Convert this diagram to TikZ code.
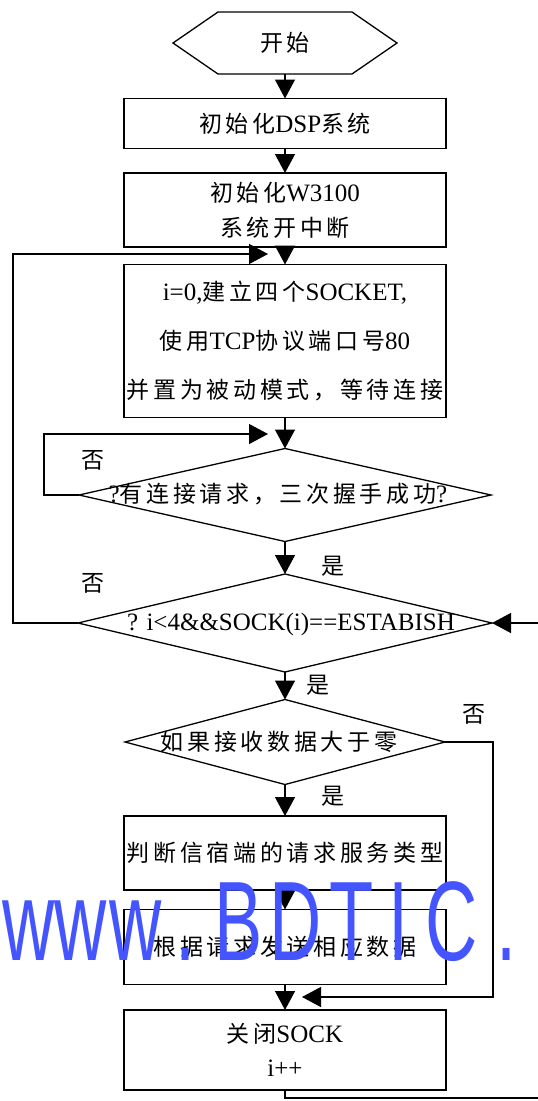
\documentclass[tikz,border=0pt]{standalone}
\usepackage{fontspec}
\setmainfont{Liberation Serif}
\newfontfamily\cjkf[LetterSpace=16,Scale=0.92]{Noto Sans CJK SC}
\newfontfamily\wmf{Liberation Sans}
\usetikzlibrary{arrows.meta,shapes.geometric,calc}
\definecolor{wmblue}{RGB}{68,85,255}
\newcommand\cjtxt[1]{{\cjkf #1}}
\newcommand\wmch[2]{\makebox[#1][l]{#2}}
\begin{document}
\begin{tikzpicture}[x=1pt,y=-1pt,
  line width=1.3pt,
  arr/.style={-{Triangle[length=19pt,width=20pt]}},
  box/.style={draw, rectangle, minimum width=322pt, inner sep=0pt, outer sep=0pt,
    font=\fontsize{25}{30}\selectfont, align=center},
  dia/.style={draw, diamond, inner sep=0pt, outer sep=0pt},
  txt/.style={inner sep=0pt, font=\fontsize{25}{30}\selectfont},
]
\useasboundingbox (0,0) rectangle (538,1101);

% start hexagon
\node[txt, minimum width=224pt, minimum height=62pt, outer sep=0pt] (st) at (285,43) {\cjtxt{开始}};
\draw (st.west) -- ($(st.north west)+(45,0)$) -- ($(st.north east)+(-45,0)$) -- (st.east)
  -- ($(st.south east)+(-45,0)$) -- ($(st.south west)+(45,0)$) -- cycle;

% boxes
\node[box, minimum height=50pt] (b1) at (285,123.5) {\cjtxt{初始化}DSP\cjtxt{系统}};
\node[box, minimum height=74pt, font=\fontsize{25}{35}\selectfont] (b2) at (285,210) {\cjtxt{初始化}W3100\\\cjtxt{系统开中断}};
\node[box, minimum height=153pt, font=\fontsize{25}{49}\selectfont] (b3) at (285,341) {i=0,\cjtxt{建立四个}SOCKET,\\\cjtxt{使用}TCP\cjtxt{协议端口号}80\\\cjtxt{并置为被动模式，等待连接}};

% diamonds
\node[dia, minimum width=412pt, minimum height=93pt] (d1) at (285,495) {};
\node[txt] (t1) at (278,494) {?\cjtxt{有连接请求，三次握手成功}?};
\node[dia, minimum width=414pt, minimum height=98pt] (d2) at (285,623) {};
\node[txt] (t2) at (291,624) {? i<4\&\&SOCK(i)==ESTABISH};
\node[dia, minimum width=320pt, minimum height=85pt] (d3) at (285,742) {};
\node[txt] (t3) at (279,742) {\cjtxt{如果接收数据大于零}};

\node[box, minimum height=74pt] (b4) at (285,853) {\cjtxt{判断信宿端的请求服务类型}};
\node[box, minimum height=75pt] (b5) at (285,947) {\cjtxt{根据请求发送相应数据}};
\node[box, minimum height=80pt, font=\fontsize{25}{34}\selectfont] (b6) at (285,1050) {\cjtxt{关闭}SOCK\\i++};

% labels
\node[txt] (l1) at (93,460) {\cjtxt{否}};
\node[txt] (l2) at (333,566) {\cjtxt{是}};
\node[txt] (l3) at (93,583) {\cjtxt{否}};
\node[txt] (l4) at (318,685) {\cjtxt{是}};
\node[txt] (l5) at (474,714) {\cjtxt{否}};
\node[txt] (l6) at (333,796) {\cjtxt{是}};

% main flow
\draw[arr] (st.south) -- (b1.north);
\draw[arr] (b1.south) -- (b2.north);
\draw[arr] (b2.south) -- (b3.north);
\draw[arr] (b3.south) -- (d1.north);
\draw[arr] (d1.south) -- (d2.north);
\draw[arr] (d2.south) -- (d3.north);
\draw[arr] (d3.south) -- (b4.north);
\draw[arr] (b4.south) -- (b5.north);
\draw[arr] (b5.south) -- (b6.north);

% loops
\coordinate (cA) at (13,254);
\coordinate (tA) at (268,254);
\draw[arr] (d2.west) -| (cA) -- (tA);
\coordinate (cB) at (44,434);
\coordinate (tB) at (268,434);
\draw[arr] (d1.west) -| (cB) -- (tB);
\coordinate (cC) at (493,997);
\coordinate (tC) at (302,997);
\draw[arr] (d3.east) -| (cC) -- (tC);
\coordinate (cD) at (541,1098);
\draw[arr] (b6.south) |- (cD) |- (d2.east);

% watermark
\node[anchor=base west, inner sep=0pt, xscale=0.64, text=wmblue,
  font=\wmf\fontsize{113}{113}\selectfont] (wm) at (1.6,960)
  {\wmch{82.8pt}{w}\wmch{85.9pt}{w}\wmch{103pt}{w}\wmch{60.5pt}{.}\wmch{85.9pt}{B}\wmch{94.4pt}{D}\wmch{92pt}{T}\wmch{57.7pt}{I}\wmch{111.1pt}{C}.};
\end{tikzpicture}
\end{document}
